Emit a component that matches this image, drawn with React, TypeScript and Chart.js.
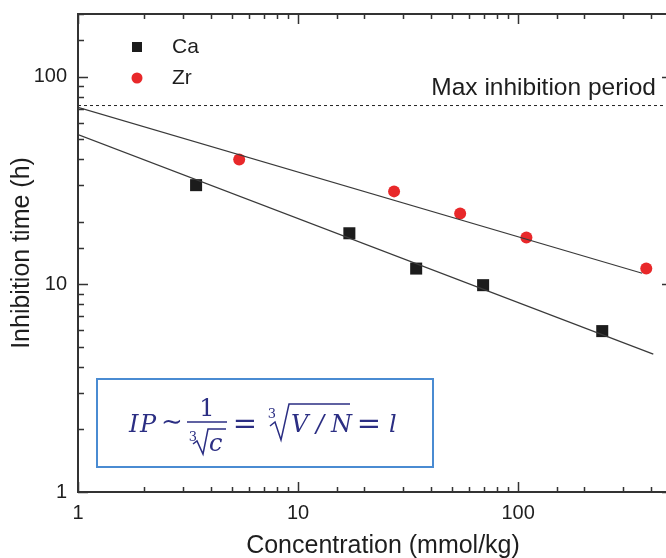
import { useEffect, useRef } from 'react';
import { Chart, registerables } from 'chart.js';

Chart.register(...registerables);

// Measured inhibition times (h) against dopant concentration (mmol/kg)
const caConcentration = [3.44, 17.1, 34.4, 69.3, 241];
const caInhibition = [30, 17.6, 11.9, 9.9, 5.95];
const zrConcentration = [5.4, 27.3, 54.5, 109, 382];
const zrInhibition = [39.9, 28, 21.9, 16.8, 11.9];

// Power-law fits, given by their end points
const caFitX = [1, 411];
const caFitY = [52.6, 4.61];
const zrFitX = [1, 366];
const zrFitY = [71, 11.3];

// Upper limit of the test
const maxInhibitionPeriod = 72.5;
const maxLabel = 'Max inhibition period';

// Axis ranges and labelled decades
const xRange = [1, 500];
const yRange = [1, 200];
const decadeLabels = [1, 10, 100];

const seriesLabels = ['Ca', 'Zr'];
const seriesColors = ['#1c1c1c', '#e8282a'];
const xTitle = 'Concentration (mmol/kg)';
const yTitle = 'Inhibition time (h)';

const AXIS_COLOR = '#333333';
const TEXT_COLOR = '#1e1e1e';
const SANS = '"Liberation Sans", Arial, sans-serif';
const SERIF = '"DejaVu Serif", serif';
const FORMULA_COLOR = '#2b2e83';
const BOX_COLOR = '#4a8bd2';

const CANVAS_W = 690;
const CANVAS_H = 558;

const isDecade = (v: number) => Math.abs(Math.log10(v) - Math.round(Math.log10(v))) < 1e-9;

const frameAndTicks = {
  id: 'frameAndTicks',
  afterDatasetsDraw(chart: any) {
    const { ctx, chartArea: a, scales } = chart;
    ctx.save();
    ctx.strokeStyle = AXIS_COLOR;
    ctx.lineWidth = 1.5;
    ctx.beginPath();
    for (const t of scales.x.ticks) {
      const px = Math.round(scales.x.getPixelForValue(t.value)) + 0.5;
      const len = isDecade(t.value) ? 10 : 5;
      ctx.moveTo(px, a.bottom);
      ctx.lineTo(px, a.bottom - len);
      ctx.moveTo(px, a.top);
      ctx.lineTo(px, a.top + len);
    }
    for (const t of scales.y.ticks) {
      const py = Math.round(scales.y.getPixelForValue(t.value)) + 0.5;
      const len = isDecade(t.value) ? 10 : 6;
      ctx.moveTo(a.left, py);
      ctx.lineTo(a.left + len, py);
      ctx.moveTo(a.right, py);
      ctx.lineTo(a.right - len, py);
    }
    ctx.stroke();
    ctx.lineWidth = 2;
    ctx.strokeRect(a.left, a.top, a.right - a.left, a.bottom - a.top);
    ctx.restore();
  },
};

const annotations = {
  id: 'annotations',
  afterDraw(chart: any) {
    const { ctx, chartArea: a, scales } = chart;
    ctx.save();

    // x-axis title, set slightly right of the plot centre
    ctx.fillStyle = TEXT_COLOR;
    ctx.font = `25px ${SANS}`;
    ctx.textAlign = 'center';
    ctx.textBaseline = 'middle';
    ctx.fillText(xTitle, (a.left + a.right) / 2 + 8, a.bottom + 54);

    // legend
    const lx = a.left + 59;
    const ly = a.top + 33;
    const gap = 31;
    ctx.fillStyle = seriesColors[0];
    ctx.fillRect(lx - 5, ly - 5, 10, 10);
    ctx.fillStyle = seriesColors[1];
    ctx.beginPath();
    ctx.arc(lx, ly + gap, 5.5, 0, Math.PI * 2);
    ctx.fill();
    ctx.fillStyle = TEXT_COLOR;
    ctx.font = `21px ${SANS}`;
    ctx.textBaseline = 'middle';
    ctx.textAlign = 'left';
    ctx.fillText(seriesLabels[0], lx + 35, ly);
    ctx.fillText(seriesLabels[1], lx + 35, ly + gap);

    // max period caption
    const maxY = scales.y.getPixelForValue(maxInhibitionPeriod);
    ctx.font = `24.5px ${SANS}`;
    ctx.textAlign = 'right';
    ctx.textBaseline = 'alphabetic';
    ctx.fillText(maxLabel, a.right - 16, maxY - 11);

    // formula box
    const bx = a.left + 19;
    const by = 379;
    ctx.strokeStyle = BOX_COLOR;
    ctx.lineWidth = 2;
    ctx.strokeRect(bx, by, 336, 88);

    ctx.fillStyle = FORMULA_COLOR;
    ctx.strokeStyle = FORMULA_COLOR;
    ctx.textAlign = 'left';
    ctx.textBaseline = 'alphabetic';
    const base = by + 53;
    ctx.font = `italic 24px ${SERIF}`;
    ctx.fillText('I', bx + 32, base);
    ctx.fillText('P', bx + 43, base);
    ctx.font = `26px ${SERIF}`;
    ctx.fillText('\u223C', bx + 64, base - 2);

    // fraction 1 / cube root of c
    ctx.font = `24px ${SERIF}`;
    ctx.textAlign = 'center';
    ctx.fillText('1', bx + 110, base - 16);
    ctx.lineWidth = 1.6;
    ctx.beginPath();
    ctx.moveTo(bx + 90, base - 10);
    ctx.lineTo(bx + 130, base - 10);
    ctx.stroke();
    ctx.font = `13px ${SERIF}`;
    ctx.fillText('3', bx + 96, base + 9);
    ctx.lineWidth = 1.5;
    ctx.beginPath();
    ctx.moveTo(bx + 96, base + 12);
    ctx.lineTo(bx + 100, base + 9);
    ctx.lineTo(bx + 106, base + 22);
    ctx.lineTo(bx + 111, base - 3);
    ctx.lineTo(bx + 129, base - 3);
    ctx.stroke();
    ctx.textAlign = 'left';
    ctx.font = `italic 24px ${SERIF}`;
    ctx.fillText('c', bx + 112, base + 19);

    ctx.font = `29px ${SERIF}`;
    ctx.textAlign = 'center';
    ctx.fillText('=', bx + 148, base + 1);

    // cube root of V/N
    ctx.font = `13px ${SERIF}`;
    ctx.fillText('3', bx + 175, base - 14);
    ctx.beginPath();
    ctx.moveTo(bx + 173, base - 6);
    ctx.lineTo(bx + 178, base - 10);
    ctx.lineTo(bx + 184, base + 8);
    ctx.lineTo(bx + 192, base - 28);
    ctx.lineTo(bx + 253, base - 28);
    ctx.stroke();
    ctx.textAlign = 'left';
    ctx.font = `italic 24px ${SERIF}`;
    ctx.fillText('V', bx + 194, base);
    ctx.fillText('/', bx + 219, base);
    ctx.fillText('N', bx + 234, base);

    ctx.font = `29px ${SERIF}`;
    ctx.textAlign = 'center';
    ctx.fillText('=', bx + 272, base + 1);
    ctx.font = `italic 24px ${SERIF}`;
    ctx.textAlign = 'left';
    ctx.fillText('l', bx + 292, base);

    ctx.restore();
  },
};

const toPoints = (xs: number[], ys: number[]) => xs.map((x, i) => ({ x, y: ys[i] }));

export default function App() {
  const canvasRef = useRef<HTMLCanvasElement | null>(null);

  useEffect(() => {
    const canvas = canvasRef.current;
    if (!canvas) return;
    const tickLabel = (v: any) => (decadeLabels.includes(Number(v)) ? String(v) : '');
    const chart = new Chart(canvas, {
      type: 'scatter',
      data: {
        datasets: [
          {
            label: 'Max',
            type: 'line',
            data: toPoints(xRange, [maxInhibitionPeriod, maxInhibitionPeriod]),
            borderColor: '#222222',
            borderWidth: 1,
            borderDash: [3, 3],
            pointRadius: 0,
            fill: false,
          },
          {
            label: 'Ca fit',
            type: 'line',
            data: toPoints(caFitX, caFitY),
            borderColor: '#3a3a3a',
            borderWidth: 1.2,
            pointRadius: 0,
            fill: false,
          },
          {
            label: 'Zr fit',
            type: 'line',
            data: toPoints(zrFitX, zrFitY),
            borderColor: '#3a3a3a',
            borderWidth: 1.2,
            pointRadius: 0,
            fill: false,
          },
          {
            label: seriesLabels[0],
            data: toPoints(caConcentration, caInhibition),
            pointStyle: 'rect',
            pointRadius: 8.5,
            pointBackgroundColor: seriesColors[0],
            pointBorderWidth: 0,
          },
          {
            label: seriesLabels[1],
            data: toPoints(zrConcentration, zrInhibition),
            pointStyle: 'circle',
            pointRadius: 6,
            pointBackgroundColor: seriesColors[1],
            pointBorderWidth: 0,
          },
        ],
      },
      options: {
        responsive: false,
        animation: false,
        devicePixelRatio: 1,
        layout: { padding: { top: 14, right: CANVAS_W - 672, left: 0, bottom: 0 } },
        plugins: {
          legend: { display: false },
          tooltip: { enabled: false },
        },
        scales: {
          x: {
            type: 'logarithmic',
            position: 'bottom',
            min: xRange[0],
            max: xRange[1],
            grid: { display: false, drawTicks: false },
            border: { display: false },
            ticks: {
              callback: tickLabel,
              autoSkip: false,
              maxRotation: 0,
              padding: 9,
              color: TEXT_COLOR,
              font: { family: SANS, size: 20 },
            },
            title: { display: false },
            afterFit: (s: any) => {
              s.height = 66;
              s.paddingLeft = 0;
              s.paddingRight = 0;
            },
          },
          y: {
            type: 'logarithmic',
            position: 'left',
            min: yRange[0],
            max: yRange[1],
            grid: { display: false, drawTicks: false },
            border: { display: false },
            ticks: {
              callback: tickLabel,
              autoSkip: false,
              padding: 11,
              color: TEXT_COLOR,
              font: { family: SANS, size: 20 },
            },
            title: {
              display: true,
              text: yTitle,
              color: TEXT_COLOR,
              font: { family: SANS, size: 25, lineHeight: 1.2 },
              padding: { top: 7, bottom: 0 },
            },
            afterFit: (s: any) => {
              s.width = 78;
              s.paddingTop = 0;
              s.paddingBottom = 0;
            },
          },
        },
      },
      plugins: [frameAndTicks, annotations],
    });
    return () => chart.destroy();
  }, []);

  return (
    <div style={{ position: 'absolute', left: 0, top: 0, width: 666, height: CANVAS_H, overflow: 'hidden', background: '#fff' }}>
      <canvas ref={canvasRef} width={CANVAS_W} height={CANVAS_H} style={{ display: 'block' }} />
    </div>
  );
}
